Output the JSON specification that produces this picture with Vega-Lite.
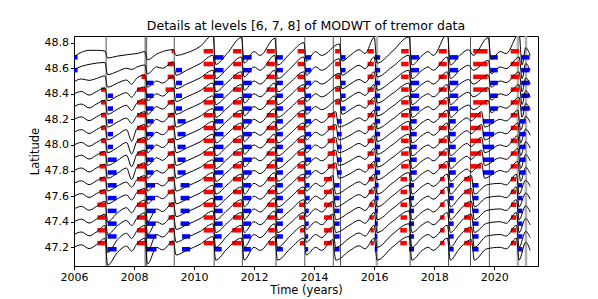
{
"$schema":"https://vega.github.io/schema/vega-lite/v6.json",
"width":464,"height":230,
"autosize":{"type":"none"},
"padding":{"left":74,"top":36,"right":60,"bottom":33},
"config":{"view":{"stroke":"black","strokeWidth":1},"font":"DejaVu Sans",
"axis":{"domainColor":"black","tickColor":"black","labelColor":"black","titleColor":"black","labelFont":"DejaVu Sans","titleFont":"DejaVu Sans","labelFontSize":11,"titleFontSize":11.5,"titleFontWeight":"normal","tickSize":3.5,"grid":false,"labelPadding":2,"labelFlush":false,"labelOverlap":false}},
"title":{"text":"Details at levels [6, 7, 8] of MODWT of tremor data","fontSize":12.5,"fontWeight":"normal","font":"DejaVu Sans","color":"black","offset":4},
"datasets":{
"rd":[{"t":2007.07},{"t":2008.37},{"t":2008.42},{"t":2009.34},{"t":2010.67},{"t":2011.61},{"t":2012.73},{"t":2013.69},{"t":2014.64},{"t":2014.88},{"t":2017.2},{"t":2018.48},{"t":2019.21},{"t":2019.84}],
"rl":[{"t":2016.09},{"t":2020.79},{"t":2021.06}],
"bars":[
{"k":"r","y":48.433,"s":2006.9,"e":2007.03},{"k":"r","y":48.333,"s":2006.9,"e":2007.03},{"k":"r","y":48.233,"s":2006.9,"e":2007.03},{"k":"r","y":48.133,"s":2006.9,"e":2007.03},{"k":"r","y":48.033,"s":2006.9,"e":2007.03},
{"k":"r","y":47.933,"s":2006.85,"e":2007.03},{"k":"r","y":47.833,"s":2006.85,"e":2007.03},{"k":"r","y":47.733,"s":2006.85,"e":2007.03},{"k":"r","y":47.633,"s":2006.85,"e":2007.03},
{"k":"r","y":47.533,"s":2006.78,"e":2007.03},{"k":"r","y":47.433,"s":2006.78,"e":2007.03},{"k":"r","y":47.333,"s":2006.78,"e":2007.03},{"k":"r","y":47.233,"s":2006.78,"e":2007.03},
{"k":"b","y":48.385,"s":2007.12,"e":2007.3},{"k":"b","y":48.285,"s":2007.12,"e":2007.3},{"k":"b","y":48.185,"s":2007.12,"e":2007.3},{"k":"b","y":48.085,"s":2007.12,"e":2007.3},{"k":"b","y":47.985,"s":2007.12,"e":2007.3},
{"k":"b","y":47.885,"s":2007.12,"e":2007.42},{"k":"b","y":47.785,"s":2007.12,"e":2007.42},{"k":"b","y":47.685,"s":2007.12,"e":2007.42},{"k":"b","y":47.585,"s":2007.12,"e":2007.42},{"k":"b","y":47.485,"s":2007.12,"e":2007.42},{"k":"b","y":47.385,"s":2007.12,"e":2007.42},{"k":"b","y":47.285,"s":2007.12,"e":2007.42},{"k":"b","y":47.185,"s":2007.12,"e":2007.42},
{"k":"b","y":48.685,"s":2006.0,"e":2006.12},{"k":"b","y":48.585,"s":2006.0,"e":2006.12},
{"k":"r","y":48.533,"s":2008.25,"e":2008.37},{"k":"r","y":48.433,"s":2008.1,"e":2008.37},{"k":"r","y":48.333,"s":2008.1,"e":2008.37},{"k":"r","y":48.233,"s":2008.1,"e":2008.37},{"k":"r","y":48.133,"s":2008.1,"e":2008.37},{"k":"r","y":48.033,"s":2008.1,"e":2008.37},{"k":"r","y":47.933,"s":2008.1,"e":2008.37},{"k":"r","y":47.833,"s":2008.1,"e":2008.37},{"k":"r","y":47.733,"s":2008.1,"e":2008.37},{"k":"r","y":47.633,"s":2008.1,"e":2008.37},{"k":"r","y":47.533,"s":2008.1,"e":2008.37},{"k":"r","y":47.433,"s":2008.1,"e":2008.37},{"k":"r","y":47.333,"s":2008.1,"e":2008.37},{"k":"r","y":47.233,"s":2008.1,"e":2008.37},
{"k":"b","y":48.485,"s":2008.42,"e":2008.65},{"k":"b","y":48.385,"s":2008.42,"e":2008.65},{"k":"b","y":48.285,"s":2008.42,"e":2008.65},{"k":"b","y":48.185,"s":2008.42,"e":2008.65},{"k":"b","y":48.085,"s":2008.42,"e":2008.65},{"k":"b","y":47.985,"s":2008.42,"e":2008.65},{"k":"b","y":47.885,"s":2008.42,"e":2008.65},{"k":"b","y":47.785,"s":2008.42,"e":2008.65},{"k":"b","y":47.685,"s":2008.42,"e":2008.7},{"k":"b","y":47.585,"s":2008.42,"e":2008.7},{"k":"b","y":47.485,"s":2008.42,"e":2008.72},{"k":"b","y":47.385,"s":2008.42,"e":2008.72},{"k":"b","y":47.285,"s":2008.42,"e":2008.75},{"k":"b","y":47.185,"s":2008.42,"e":2008.75},
{"k":"r","y":48.733,"s":2009.25,"e":2009.32},{"k":"r","y":48.633,"s":2009.12,"e":2009.32},{"k":"r","y":48.533,"s":2009.12,"e":2009.32},{"k":"r","y":48.433,"s":2009.05,"e":2009.32},{"k":"r","y":48.333,"s":2009.12,"e":2009.32},{"k":"r","y":48.233,"s":2009.12,"e":2009.32},{"k":"r","y":48.133,"s":2009.12,"e":2009.32},{"k":"r","y":48.033,"s":2009.12,"e":2009.32},{"k":"r","y":47.933,"s":2009.12,"e":2009.32},{"k":"r","y":47.833,"s":2009.12,"e":2009.32},{"k":"r","y":47.733,"s":2009.12,"e":2009.32},{"k":"r","y":47.633,"s":2009.12,"e":2009.32},{"k":"r","y":47.533,"s":2009.15,"e":2009.32},{"k":"r","y":47.433,"s":2009.15,"e":2009.32},{"k":"r","y":47.333,"s":2009.17,"e":2009.32},{"k":"r","y":47.233,"s":2009.17,"e":2009.32},
{"k":"b","y":48.585,"s":2009.4,"e":2009.6},{"k":"b","y":48.485,"s":2009.4,"e":2009.6},{"k":"b","y":48.385,"s":2009.4,"e":2009.6},{"k":"b","y":48.285,"s":2009.4,"e":2009.6},{"k":"b","y":48.185,"s":2009.45,"e":2009.72},{"k":"b","y":48.085,"s":2009.45,"e":2009.72},{"k":"b","y":47.985,"s":2009.45,"e":2009.72},{"k":"b","y":47.885,"s":2009.45,"e":2009.72},{"k":"b","y":47.785,"s":2009.45,"e":2009.72},{"k":"b","y":47.685,"s":2009.55,"e":2009.85},{"k":"b","y":47.585,"s":2009.55,"e":2009.85},{"k":"b","y":47.485,"s":2009.55,"e":2009.85},{"k":"b","y":47.385,"s":2009.55,"e":2009.85},{"k":"b","y":47.285,"s":2009.6,"e":2009.87},{"k":"b","y":47.185,"s":2009.6,"e":2009.87},
{"k":"r","y":48.733,"s":2010.32,"e":2010.63},{"k":"r","y":48.633,"s":2010.32,"e":2010.63},{"k":"r","y":48.533,"s":2010.32,"e":2010.63},{"k":"r","y":48.433,"s":2010.32,"e":2010.63},{"k":"r","y":48.333,"s":2010.32,"e":2010.63},{"k":"r","y":48.233,"s":2010.32,"e":2010.63},{"k":"r","y":48.133,"s":2010.32,"e":2010.63},{"k":"r","y":48.033,"s":2010.32,"e":2010.63},{"k":"r","y":47.933,"s":2010.32,"e":2010.63},{"k":"r","y":47.833,"s":2010.32,"e":2010.63},{"k":"r","y":47.733,"s":2010.32,"e":2010.63},{"k":"r","y":47.633,"s":2010.32,"e":2010.63},{"k":"r","y":47.533,"s":2010.32,"e":2010.63},{"k":"r","y":47.433,"s":2010.32,"e":2010.63},{"k":"r","y":47.333,"s":2010.32,"e":2010.63},{"k":"r","y":47.233,"s":2010.32,"e":2010.63},
{"k":"b","y":48.685,"s":2010.68,"e":2010.98},{"k":"b","y":48.585,"s":2010.68,"e":2010.98},{"k":"b","y":48.485,"s":2010.68,"e":2010.98},{"k":"b","y":48.385,"s":2010.68,"e":2010.98},{"k":"b","y":48.285,"s":2010.68,"e":2010.98},{"k":"b","y":48.185,"s":2010.68,"e":2010.98},{"k":"b","y":48.085,"s":2010.68,"e":2010.98},{"k":"b","y":47.985,"s":2010.68,"e":2010.98},{"k":"b","y":47.885,"s":2010.68,"e":2010.98},{"k":"b","y":47.785,"s":2010.68,"e":2010.98},{"k":"b","y":47.685,"s":2010.68,"e":2010.95},{"k":"b","y":47.585,"s":2010.68,"e":2010.95},{"k":"b","y":47.485,"s":2010.68,"e":2010.95},{"k":"b","y":47.385,"s":2010.68,"e":2010.95},{"k":"b","y":47.285,"s":2010.68,"e":2010.92},{"k":"b","y":47.185,"s":2010.68,"e":2010.92},
{"k":"r","y":48.733,"s":2011.3,"e":2011.58},{"k":"r","y":48.633,"s":2011.3,"e":2011.58},{"k":"r","y":48.533,"s":2011.3,"e":2011.58},{"k":"r","y":48.433,"s":2011.3,"e":2011.58},{"k":"r","y":48.333,"s":2011.3,"e":2011.58},{"k":"r","y":48.233,"s":2011.3,"e":2011.58},{"k":"r","y":48.133,"s":2011.3,"e":2011.58},{"k":"r","y":48.033,"s":2011.3,"e":2011.58},{"k":"r","y":47.933,"s":2011.3,"e":2011.58},{"k":"r","y":47.833,"s":2011.3,"e":2011.58},{"k":"r","y":47.733,"s":2011.3,"e":2011.58},{"k":"r","y":47.633,"s":2011.3,"e":2011.58},{"k":"r","y":47.533,"s":2011.3,"e":2011.58},{"k":"r","y":47.433,"s":2011.3,"e":2011.58},{"k":"r","y":47.333,"s":2011.27,"e":2011.58},{"k":"r","y":47.233,"s":2011.27,"e":2011.58},
{"k":"b","y":48.685,"s":2011.64,"e":2011.92},{"k":"b","y":48.585,"s":2011.64,"e":2011.92},{"k":"b","y":48.485,"s":2011.64,"e":2011.92},{"k":"b","y":48.385,"s":2011.64,"e":2011.92},{"k":"b","y":48.285,"s":2011.64,"e":2011.92},{"k":"b","y":48.185,"s":2011.64,"e":2011.92},{"k":"b","y":48.085,"s":2011.64,"e":2011.92},{"k":"b","y":47.985,"s":2011.64,"e":2011.92},{"k":"b","y":47.885,"s":2011.64,"e":2011.92},{"k":"b","y":47.785,"s":2011.64,"e":2011.92},{"k":"b","y":47.685,"s":2011.64,"e":2011.9},{"k":"b","y":47.585,"s":2011.64,"e":2011.9},{"k":"b","y":47.485,"s":2011.64,"e":2011.9},{"k":"b","y":47.385,"s":2011.64,"e":2011.9},{"k":"b","y":47.285,"s":2011.64,"e":2011.89},{"k":"b","y":47.185,"s":2011.64,"e":2011.89},
{"k":"r","y":48.733,"s":2012.42,"e":2012.69},{"k":"r","y":48.633,"s":2012.42,"e":2012.69},{"k":"r","y":48.533,"s":2012.42,"e":2012.69},{"k":"r","y":48.433,"s":2012.42,"e":2012.69},{"k":"r","y":48.333,"s":2012.42,"e":2012.69},{"k":"r","y":48.233,"s":2012.42,"e":2012.69},{"k":"r","y":48.133,"s":2012.42,"e":2012.69},{"k":"r","y":48.033,"s":2012.42,"e":2012.69},{"k":"r","y":47.933,"s":2012.42,"e":2012.69},{"k":"r","y":47.833,"s":2012.42,"e":2012.69},{"k":"r","y":47.733,"s":2012.45,"e":2012.69},{"k":"r","y":47.633,"s":2012.45,"e":2012.69},{"k":"r","y":47.533,"s":2012.45,"e":2012.69},{"k":"r","y":47.433,"s":2012.45,"e":2012.69},{"k":"r","y":47.333,"s":2012.48,"e":2012.69},{"k":"r","y":47.233,"s":2012.48,"e":2012.69},
{"k":"b","y":48.685,"s":2012.76,"e":2012.96},{"k":"b","y":48.585,"s":2012.76,"e":2012.96},{"k":"b","y":48.485,"s":2012.76,"e":2012.96},{"k":"b","y":48.385,"s":2012.76,"e":2012.96},{"k":"b","y":48.285,"s":2012.76,"e":2012.96},{"k":"b","y":48.185,"s":2012.76,"e":2012.96},{"k":"b","y":48.085,"s":2012.76,"e":2012.96},{"k":"b","y":47.985,"s":2012.76,"e":2012.96},{"k":"b","y":47.885,"s":2012.76,"e":2012.96},{"k":"b","y":47.785,"s":2012.76,"e":2012.96},{"k":"b","y":47.685,"s":2012.76,"e":2012.96},{"k":"b","y":47.585,"s":2012.76,"e":2012.96},{"k":"b","y":47.485,"s":2012.76,"e":2012.96},{"k":"b","y":47.385,"s":2012.76,"e":2012.96},{"k":"b","y":47.285,"s":2012.76,"e":2012.96},{"k":"b","y":47.185,"s":2012.76,"e":2012.96},
{"k":"r","y":48.733,"s":2013.45,"e":2013.67},{"k":"r","y":48.633,"s":2013.45,"e":2013.67},{"k":"r","y":48.533,"s":2013.45,"e":2013.67},{"k":"r","y":48.433,"s":2013.45,"e":2013.67},{"k":"r","y":48.333,"s":2013.45,"e":2013.67},{"k":"r","y":48.233,"s":2013.45,"e":2013.67},{"k":"r","y":48.133,"s":2013.45,"e":2013.67},{"k":"r","y":48.033,"s":2013.45,"e":2013.67},{"k":"r","y":47.933,"s":2013.45,"e":2013.67},{"k":"r","y":47.833,"s":2013.45,"e":2013.67},{"k":"r","y":47.733,"s":2013.45,"e":2013.67},{"k":"r","y":47.633,"s":2013.45,"e":2013.67},{"k":"r","y":47.533,"s":2013.5,"e":2013.67},{"k":"r","y":47.433,"s":2013.5,"e":2013.67},{"k":"r","y":47.333,"s":2013.53,"e":2013.67},{"k":"r","y":47.233,"s":2013.53,"e":2013.67},
{"k":"b","y":48.685,"s":2013.73,"e":2013.9},{"k":"b","y":48.585,"s":2013.73,"e":2013.9},{"k":"b","y":48.485,"s":2013.73,"e":2013.9},{"k":"b","y":48.385,"s":2013.73,"e":2013.9},{"k":"b","y":48.285,"s":2013.73,"e":2013.9},{"k":"b","y":48.185,"s":2013.73,"e":2013.9},{"k":"b","y":48.085,"s":2013.73,"e":2013.9},{"k":"b","y":47.985,"s":2013.73,"e":2013.9},{"k":"b","y":47.885,"s":2013.73,"e":2013.9},{"k":"b","y":47.785,"s":2013.73,"e":2013.9},{"k":"b","y":47.685,"s":2013.73,"e":2013.85},{"k":"b","y":47.585,"s":2013.73,"e":2013.85},{"k":"b","y":47.485,"s":2013.73,"e":2013.82},{"k":"b","y":47.385,"s":2013.73,"e":2013.82},{"k":"b","y":47.285,"s":2013.73,"e":2013.8},{"k":"b","y":47.185,"s":2013.73,"e":2013.8},
{"k":"r","y":48.733,"s":2014.7,"e":2014.86},{"k":"r","y":48.633,"s":2014.7,"e":2014.86},{"k":"r","y":48.533,"s":2014.7,"e":2014.86},{"k":"r","y":48.433,"s":2014.7,"e":2014.86},{"k":"r","y":48.333,"s":2014.7,"e":2014.86},{"k":"r","y":48.233,"s":2014.45,"e":2014.7},{"k":"r","y":48.133,"s":2014.45,"e":2014.7},{"k":"r","y":48.033,"s":2014.45,"e":2014.7},{"k":"r","y":47.933,"s":2014.45,"e":2014.7},{"k":"r","y":47.833,"s":2014.45,"e":2014.7},{"k":"r","y":47.733,"s":2014.33,"e":2014.6},{"k":"r","y":47.633,"s":2014.33,"e":2014.6},{"k":"r","y":47.533,"s":2014.33,"e":2014.6},{"k":"r","y":47.433,"s":2014.33,"e":2014.6},{"k":"r","y":47.333,"s":2014.33,"e":2014.6},{"k":"r","y":47.233,"s":2014.33,"e":2014.6},
{"k":"b","y":48.685,"s":2014.9,"e":2015.05},{"k":"b","y":48.585,"s":2014.9,"e":2015.05},{"k":"b","y":48.485,"s":2014.9,"e":2015.05},{"k":"b","y":48.385,"s":2014.9,"e":2015.05},{"k":"b","y":48.285,"s":2014.9,"e":2015.05},{"k":"b","y":48.185,"s":2014.76,"e":2014.92},{"k":"b","y":48.085,"s":2014.76,"e":2014.92},{"k":"b","y":47.985,"s":2014.76,"e":2014.92},{"k":"b","y":47.885,"s":2014.76,"e":2014.92},{"k":"b","y":47.785,"s":2014.76,"e":2014.92},{"k":"b","y":47.685,"s":2014.68,"e":2014.85},{"k":"b","y":47.585,"s":2014.68,"e":2014.85},{"k":"b","y":47.485,"s":2014.68,"e":2014.85},{"k":"b","y":47.385,"s":2014.68,"e":2014.85},{"k":"b","y":47.285,"s":2014.68,"e":2014.85},{"k":"b","y":47.185,"s":2014.68,"e":2014.85},
{"k":"r","y":48.733,"s":2015.78,"e":2015.99},{"k":"r","y":48.633,"s":2015.78,"e":2015.99},{"k":"r","y":48.533,"s":2015.78,"e":2015.99},{"k":"r","y":48.433,"s":2015.78,"e":2015.99},{"k":"r","y":48.333,"s":2015.78,"e":2015.99},{"k":"r","y":48.233,"s":2015.78,"e":2015.99},{"k":"r","y":48.133,"s":2015.78,"e":2015.99},{"k":"r","y":48.033,"s":2015.78,"e":2015.99},{"k":"r","y":47.933,"s":2015.78,"e":2015.99},{"k":"r","y":47.833,"s":2015.78,"e":2015.99},{"k":"r","y":47.733,"s":2015.82,"e":2015.99},{"k":"r","y":47.633,"s":2015.82,"e":2015.99},{"k":"r","y":47.533,"s":2015.85,"e":2015.99},{"k":"r","y":47.433,"s":2015.85,"e":2015.99},{"k":"r","y":47.333,"s":2015.88,"e":2015.99},{"k":"r","y":47.233,"s":2015.88,"e":2015.99},
{"k":"b","y":48.685,"s":2016.02,"e":2016.2},{"k":"b","y":48.585,"s":2016.02,"e":2016.2},{"k":"b","y":48.485,"s":2016.02,"e":2016.2},{"k":"b","y":48.385,"s":2016.02,"e":2016.2},{"k":"b","y":48.285,"s":2016.02,"e":2016.2},{"k":"b","y":48.185,"s":2016.02,"e":2016.2},{"k":"b","y":48.085,"s":2016.02,"e":2016.2},{"k":"b","y":47.985,"s":2016.02,"e":2016.2},{"k":"b","y":47.885,"s":2016.02,"e":2016.2},{"k":"b","y":47.785,"s":2016.02,"e":2016.2},{"k":"b","y":47.685,"s":2016.02,"e":2016.15},{"k":"b","y":47.585,"s":2016.02,"e":2016.15},{"k":"b","y":47.485,"s":2016.02,"e":2016.12},{"k":"b","y":47.385,"s":2016.02,"e":2016.12},{"k":"b","y":47.285,"s":2016.02,"e":2016.1},{"k":"b","y":47.185,"s":2016.02,"e":2016.1},
{"k":"r","y":48.733,"s":2016.9,"e":2017.15},{"k":"r","y":48.633,"s":2016.9,"e":2017.15},{"k":"r","y":48.533,"s":2016.9,"e":2017.15},{"k":"r","y":48.433,"s":2016.9,"e":2017.15},{"k":"r","y":48.333,"s":2016.9,"e":2017.15},{"k":"r","y":48.233,"s":2016.9,"e":2017.15},{"k":"r","y":48.133,"s":2016.9,"e":2017.15},{"k":"r","y":48.033,"s":2016.9,"e":2017.15},{"k":"r","y":47.933,"s":2016.9,"e":2017.15},{"k":"r","y":47.833,"s":2016.9,"e":2017.15},{"k":"r","y":47.733,"s":2016.88,"e":2017.1},{"k":"r","y":47.633,"s":2016.88,"e":2017.1},{"k":"r","y":47.533,"s":2016.88,"e":2017.1},{"k":"r","y":47.433,"s":2016.88,"e":2017.1},{"k":"r","y":47.333,"s":2016.87,"e":2017.09},{"k":"r","y":47.233,"s":2016.87,"e":2017.09},
{"k":"b","y":48.685,"s":2017.22,"e":2017.5},{"k":"b","y":48.585,"s":2017.22,"e":2017.5},{"k":"b","y":48.485,"s":2017.22,"e":2017.5},{"k":"b","y":48.385,"s":2017.22,"e":2017.5},{"k":"b","y":48.285,"s":2017.22,"e":2017.5},{"k":"b","y":48.185,"s":2017.2,"e":2017.42},{"k":"b","y":48.085,"s":2017.2,"e":2017.42},{"k":"b","y":47.985,"s":2017.2,"e":2017.42},{"k":"b","y":47.885,"s":2017.2,"e":2017.42},{"k":"b","y":47.785,"s":2017.2,"e":2017.42},{"k":"b","y":47.685,"s":2017.16,"e":2017.33},{"k":"b","y":47.585,"s":2017.16,"e":2017.33},{"k":"b","y":47.485,"s":2017.16,"e":2017.33},{"k":"b","y":47.385,"s":2017.16,"e":2017.33},{"k":"b","y":47.285,"s":2017.16,"e":2017.33},{"k":"b","y":47.185,"s":2017.16,"e":2017.33},
{"k":"r","y":48.733,"s":2018.15,"e":2018.42},{"k":"r","y":48.633,"s":2018.15,"e":2018.42},{"k":"r","y":48.533,"s":2018.15,"e":2018.42},{"k":"r","y":48.433,"s":2018.15,"e":2018.42},{"k":"r","y":48.333,"s":2018.15,"e":2018.42},{"k":"r","y":48.233,"s":2018.15,"e":2018.42},{"k":"r","y":48.133,"s":2018.15,"e":2018.42},{"k":"r","y":48.033,"s":2018.15,"e":2018.42},{"k":"r","y":47.933,"s":2018.15,"e":2018.42},{"k":"r","y":47.833,"s":2018.15,"e":2018.42},{"k":"r","y":47.733,"s":2018.2,"e":2018.35},{"k":"r","y":47.633,"s":2018.2,"e":2018.35},{"k":"r","y":47.533,"s":2018.2,"e":2018.35},{"k":"r","y":47.433,"s":2018.2,"e":2018.35},{"k":"r","y":47.333,"s":2018.2,"e":2018.35},{"k":"r","y":47.233,"s":2018.2,"e":2018.35},
{"k":"b","y":48.685,"s":2018.52,"e":2018.8},{"k":"b","y":48.585,"s":2018.52,"e":2018.8},{"k":"b","y":48.485,"s":2018.52,"e":2018.8},{"k":"b","y":48.385,"s":2018.52,"e":2018.8},{"k":"b","y":48.285,"s":2018.52,"e":2018.8},{"k":"b","y":48.185,"s":2018.5,"e":2018.72},{"k":"b","y":48.085,"s":2018.5,"e":2018.72},{"k":"b","y":47.985,"s":2018.5,"e":2018.72},{"k":"b","y":47.885,"s":2018.5,"e":2018.72},{"k":"b","y":47.785,"s":2018.5,"e":2018.72},{"k":"b","y":47.685,"s":2018.5,"e":2018.65},{"k":"b","y":47.585,"s":2018.5,"e":2018.65},{"k":"b","y":47.485,"s":2018.5,"e":2018.65},{"k":"b","y":47.385,"s":2018.5,"e":2018.65},{"k":"b","y":47.285,"s":2018.5,"e":2018.65},{"k":"b","y":47.185,"s":2018.5,"e":2018.65},
{"k":"r","y":48.733,"s":2019.3,"e":2019.78},{"k":"r","y":48.633,"s":2019.3,"e":2019.78},{"k":"r","y":48.533,"s":2019.3,"e":2019.78},{"k":"r","y":48.433,"s":2019.3,"e":2019.78},{"k":"r","y":48.333,"s":2019.3,"e":2019.78},{"k":"r","y":48.233,"s":2019.2,"e":2019.56},{"k":"r","y":48.133,"s":2019.2,"e":2019.56},{"k":"r","y":48.033,"s":2019.2,"e":2019.56},{"k":"r","y":47.933,"s":2019.2,"e":2019.56},{"k":"r","y":47.833,"s":2019.2,"e":2019.56},{"k":"r","y":47.733,"s":2019.0,"e":2019.24},{"k":"r","y":47.633,"s":2019.0,"e":2019.24},{"k":"r","y":47.533,"s":2019.0,"e":2019.24},{"k":"r","y":47.433,"s":2019.0,"e":2019.24},{"k":"r","y":47.333,"s":2019.0,"e":2019.24},{"k":"r","y":47.233,"s":2019.0,"e":2019.24},
{"k":"b","y":48.685,"s":2019.87,"e":2020.12},{"k":"b","y":48.585,"s":2019.87,"e":2020.12},{"k":"b","y":48.485,"s":2019.87,"e":2020.12},{"k":"b","y":48.385,"s":2019.87,"e":2020.12},{"k":"b","y":48.285,"s":2019.87,"e":2020.12},{"k":"b","y":48.185,"s":2019.62,"e":2020.0},{"k":"b","y":48.085,"s":2019.62,"e":2020.0},{"k":"b","y":47.985,"s":2019.62,"e":2020.0},{"k":"b","y":47.885,"s":2019.62,"e":2020.0},{"k":"b","y":47.785,"s":2019.62,"e":2020.0},{"k":"b","y":47.685,"s":2019.28,"e":2019.48},{"k":"b","y":47.585,"s":2019.28,"e":2019.48},{"k":"b","y":47.485,"s":2019.28,"e":2019.48},{"k":"b","y":47.385,"s":2019.28,"e":2019.48},{"k":"b","y":47.285,"s":2019.28,"e":2019.48},{"k":"b","y":47.185,"s":2019.28,"e":2019.48},
{"k":"r","y":48.733,"s":2020.55,"e":2020.83},{"k":"r","y":48.633,"s":2020.55,"e":2020.83},{"k":"r","y":48.533,"s":2020.55,"e":2020.83},{"k":"r","y":48.433,"s":2020.55,"e":2020.83},{"k":"r","y":48.333,"s":2020.55,"e":2020.83},{"k":"r","y":48.233,"s":2020.55,"e":2020.78},{"k":"r","y":48.133,"s":2020.55,"e":2020.78},{"k":"r","y":48.033,"s":2020.55,"e":2020.78},{"k":"r","y":47.933,"s":2020.55,"e":2020.78},{"k":"r","y":47.833,"s":2020.55,"e":2020.78},{"k":"r","y":47.733,"s":2020.56,"e":2020.73},{"k":"r","y":47.633,"s":2020.56,"e":2020.73},{"k":"r","y":47.533,"s":2020.56,"e":2020.73},{"k":"r","y":47.433,"s":2020.56,"e":2020.73},{"k":"r","y":47.333,"s":2020.56,"e":2020.73},{"k":"r","y":47.233,"s":2020.56,"e":2020.73},
{"k":"b","y":48.685,"s":2020.9,"e":2021.18},{"k":"b","y":48.585,"s":2020.9,"e":2021.18},{"k":"b","y":48.485,"s":2020.9,"e":2021.18},{"k":"b","y":48.385,"s":2020.9,"e":2021.18},{"k":"b","y":48.285,"s":2020.9,"e":2021.18},{"k":"b","y":48.185,"s":2020.86,"e":2021.05},{"k":"b","y":48.085,"s":2020.86,"e":2021.05},{"k":"b","y":47.985,"s":2020.86,"e":2021.05},{"k":"b","y":47.885,"s":2020.86,"e":2021.05},{"k":"b","y":47.785,"s":2020.86,"e":2021.05},{"k":"b","y":47.685,"s":2020.8,"e":2020.94},{"k":"b","y":47.585,"s":2020.8,"e":2020.94},{"k":"b","y":47.485,"s":2020.8,"e":2020.94},{"k":"b","y":47.385,"s":2020.8,"e":2020.94},{"k":"b","y":47.285,"s":2020.8,"e":2020.94},{"k":"b","y":47.185,"s":2020.8,"e":2020.94}
],
"curves":[
{"lat":48.7,"t":2006,"y":48.69},{"lat":48.7,"t":2006.25,"y":48.725},{"lat":48.7,"t":2006.5,"y":48.74},{"lat":48.7,"t":2006.75,"y":48.74},{"lat":48.7,"t":2007.03,"y":48.735},{"lat":48.7,"t":2007.12,"y":48.68},{"lat":48.7,"t":2007.45,"y":48.695},{"lat":48.7,"t":2007.75,"y":48.705},{"lat":48.7,"t":2007.92,"y":48.71},{"lat":48.7,"t":2008.1,"y":48.715},{"lat":48.7,"t":2008.36,"y":48.73},{"lat":48.7,"t":2008.45,"y":48.665},{"lat":48.7,"t":2008.75,"y":48.71},{"lat":48.7,"t":2008.95,"y":48.73},{"lat":48.7,"t":2009.31,"y":48.745},{"lat":48.7,"t":2009.4,"y":48.7},{"lat":48.7,"t":2009.75,"y":48.72},{"lat":48.7,"t":2010.2,"y":48.77},{"lat":48.7,"t":2010.63,"y":48.86},{"lat":48.7,"t":2010.72,"y":48.63},{"lat":48.7,"t":2011.1,"y":48.715},{"lat":48.7,"t":2011.58,"y":48.84},{"lat":48.7,"t":2011.67,"y":48.64},{"lat":48.7,"t":2012,"y":48.73},{"lat":48.7,"t":2012.2,"y":48.7},{"lat":48.7,"t":2012.69,"y":48.835},{"lat":48.7,"t":2012.78,"y":48.625},{"lat":48.7,"t":2013.2,"y":48.715},{"lat":48.7,"t":2013.66,"y":48.8},{"lat":48.7,"t":2013.74,"y":48.655},{"lat":48.7,"t":2014.05,"y":48.73},{"lat":48.7,"t":2014.25,"y":48.7},{"lat":48.7,"t":2014.84,"y":48.79},{"lat":48.7,"t":2014.93,"y":48.655},{"lat":48.7,"t":2015.2,"y":48.7},{"lat":48.7,"t":2015.5,"y":48.745},{"lat":48.7,"t":2015.7,"y":48.715},{"lat":48.7,"t":2016,"y":48.84},{"lat":48.7,"t":2016.1,"y":48.64},{"lat":48.7,"t":2016.6,"y":48.73},{"lat":48.7,"t":2017.16,"y":48.845},{"lat":48.7,"t":2017.26,"y":48.625},{"lat":48.7,"t":2017.6,"y":48.7},{"lat":48.7,"t":2017.8,"y":48.73},{"lat":48.7,"t":2017.97,"y":48.7},{"lat":48.7,"t":2018.44,"y":48.87},{"lat":48.7,"t":2018.54,"y":48.625},{"lat":48.7,"t":2018.85,"y":48.7},{"lat":48.7,"t":2019.15,"y":48.745},{"lat":48.7,"t":2019.3,"y":48.7},{"lat":48.7,"t":2019.8,"y":48.84},{"lat":48.7,"t":2019.9,"y":48.67},{"lat":48.7,"t":2020.2,"y":48.73},{"lat":48.7,"t":2020.4,"y":48.715},{"lat":48.7,"t":2020.83,"y":48.87},{"lat":48.7,"t":2020.93,"y":48.625},{"lat":48.7,"t":2021.05,"y":48.76},{"lat":48.7,"t":2021.2,"y":48.7},
{"lat":48.6,"t":2006,"y":48.59},{"lat":48.6,"t":2006.25,"y":48.615},{"lat":48.6,"t":2006.5,"y":48.63},{"lat":48.6,"t":2006.75,"y":48.64},{"lat":48.6,"t":2007.03,"y":48.645},{"lat":48.6,"t":2007.12,"y":48.55},{"lat":48.6,"t":2007.45,"y":48.575},{"lat":48.6,"t":2007.75,"y":48.6},{"lat":48.6,"t":2007.92,"y":48.59},{"lat":48.6,"t":2008.1,"y":48.61},{"lat":48.6,"t":2008.36,"y":48.625},{"lat":48.6,"t":2008.45,"y":48.555},{"lat":48.6,"t":2008.75,"y":48.61},{"lat":48.6,"t":2008.95,"y":48.6},{"lat":48.6,"t":2009.31,"y":48.65},{"lat":48.6,"t":2009.4,"y":48.545},{"lat":48.6,"t":2009.75,"y":48.584},{"lat":48.6,"t":2010.2,"y":48.636},{"lat":48.6,"t":2010.63,"y":48.701},{"lat":48.6,"t":2010.72,"y":48.519},{"lat":48.6,"t":2011.1,"y":48.597},{"lat":48.6,"t":2011.58,"y":48.688},{"lat":48.6,"t":2011.67,"y":48.532},{"lat":48.6,"t":2012,"y":48.61},{"lat":48.6,"t":2012.2,"y":48.584},{"lat":48.6,"t":2012.69,"y":48.701},{"lat":48.6,"t":2012.78,"y":48.519},{"lat":48.6,"t":2013.2,"y":48.597},{"lat":48.6,"t":2013.66,"y":48.688},{"lat":48.6,"t":2013.74,"y":48.545},{"lat":48.6,"t":2014.05,"y":48.61},{"lat":48.6,"t":2014.25,"y":48.584},{"lat":48.6,"t":2014.84,"y":48.675},{"lat":48.6,"t":2014.93,"y":48.545},{"lat":48.6,"t":2015.2,"y":48.584},{"lat":48.6,"t":2015.5,"y":48.623},{"lat":48.6,"t":2015.7,"y":48.597},{"lat":48.6,"t":2016,"y":48.688},{"lat":48.6,"t":2016.1,"y":48.532},{"lat":48.6,"t":2016.6,"y":48.61},{"lat":48.6,"t":2017.16,"y":48.701},{"lat":48.6,"t":2017.26,"y":48.519},{"lat":48.6,"t":2017.6,"y":48.584},{"lat":48.6,"t":2017.8,"y":48.61},{"lat":48.6,"t":2017.97,"y":48.584},{"lat":48.6,"t":2018.44,"y":48.688},{"lat":48.6,"t":2018.54,"y":48.519},{"lat":48.6,"t":2018.85,"y":48.584},{"lat":48.6,"t":2019.15,"y":48.623},{"lat":48.6,"t":2019.3,"y":48.584},{"lat":48.6,"t":2019.8,"y":48.662},{"lat":48.6,"t":2019.9,"y":48.558},{"lat":48.6,"t":2020.2,"y":48.61},{"lat":48.6,"t":2020.4,"y":48.597},{"lat":48.6,"t":2020.83,"y":48.688},{"lat":48.6,"t":2020.93,"y":48.519},{"lat":48.6,"t":2021.05,"y":48.636},{"lat":48.6,"t":2021.2,"y":48.584},
{"lat":48.5,"t":2006,"y":48.495},{"lat":48.5,"t":2006.25,"y":48.516},{"lat":48.5,"t":2006.5,"y":48.505},{"lat":48.5,"t":2006.75,"y":48.52},{"lat":48.5,"t":2007.03,"y":48.54},{"lat":48.5,"t":2007.12,"y":48.452},{"lat":48.5,"t":2007.45,"y":48.484},{"lat":48.5,"t":2007.75,"y":48.508},{"lat":48.5,"t":2007.92,"y":48.476},{"lat":48.5,"t":2008.1,"y":48.524},{"lat":48.5,"t":2008.36,"y":48.548},{"lat":48.5,"t":2008.45,"y":48.452},{"lat":48.5,"t":2008.75,"y":48.5},{"lat":48.5,"t":2008.95,"y":48.484},{"lat":48.5,"t":2009.31,"y":48.54},{"lat":48.5,"t":2009.4,"y":48.44},{"lat":48.5,"t":2009.75,"y":48.476},{"lat":48.5,"t":2010.2,"y":48.524},{"lat":48.5,"t":2010.63,"y":48.584},{"lat":48.5,"t":2010.72,"y":48.416},{"lat":48.5,"t":2011.1,"y":48.488},{"lat":48.5,"t":2011.58,"y":48.572},{"lat":48.5,"t":2011.67,"y":48.428},{"lat":48.5,"t":2012,"y":48.5},{"lat":48.5,"t":2012.2,"y":48.476},{"lat":48.5,"t":2012.69,"y":48.584},{"lat":48.5,"t":2012.78,"y":48.416},{"lat":48.5,"t":2013.2,"y":48.488},{"lat":48.5,"t":2013.66,"y":48.572},{"lat":48.5,"t":2013.74,"y":48.44},{"lat":48.5,"t":2014.05,"y":48.5},{"lat":48.5,"t":2014.25,"y":48.476},{"lat":48.5,"t":2014.84,"y":48.56},{"lat":48.5,"t":2014.93,"y":48.44},{"lat":48.5,"t":2015.2,"y":48.476},{"lat":48.5,"t":2015.5,"y":48.512},{"lat":48.5,"t":2015.7,"y":48.488},{"lat":48.5,"t":2016,"y":48.572},{"lat":48.5,"t":2016.1,"y":48.428},{"lat":48.5,"t":2016.6,"y":48.5},{"lat":48.5,"t":2017.16,"y":48.584},{"lat":48.5,"t":2017.26,"y":48.416},{"lat":48.5,"t":2017.6,"y":48.476},{"lat":48.5,"t":2017.8,"y":48.5},{"lat":48.5,"t":2017.97,"y":48.476},{"lat":48.5,"t":2018.44,"y":48.572},{"lat":48.5,"t":2018.54,"y":48.416},{"lat":48.5,"t":2018.85,"y":48.476},{"lat":48.5,"t":2019.15,"y":48.512},{"lat":48.5,"t":2019.3,"y":48.476},{"lat":48.5,"t":2019.8,"y":48.548},{"lat":48.5,"t":2019.9,"y":48.452},{"lat":48.5,"t":2020.2,"y":48.5},{"lat":48.5,"t":2020.4,"y":48.488},{"lat":48.5,"t":2020.83,"y":48.572},{"lat":48.5,"t":2020.93,"y":48.416},{"lat":48.5,"t":2021.05,"y":48.524},{"lat":48.5,"t":2021.2,"y":48.476},
{"lat":48.4,"t":2006,"y":48.4},{"lat":48.4,"t":2006.25,"y":48.418},{"lat":48.4,"t":2006.5,"y":48.39},{"lat":48.4,"t":2006.75,"y":48.418},{"lat":48.4,"t":2007.03,"y":48.445},{"lat":48.4,"t":2007.12,"y":48.346},{"lat":48.4,"t":2007.45,"y":48.382},{"lat":48.4,"t":2007.75,"y":48.409},{"lat":48.4,"t":2007.92,"y":48.373},{"lat":48.4,"t":2008.1,"y":48.427},{"lat":48.4,"t":2008.36,"y":48.454},{"lat":48.4,"t":2008.45,"y":48.346},{"lat":48.4,"t":2008.75,"y":48.4},{"lat":48.4,"t":2008.95,"y":48.382},{"lat":48.4,"t":2009.31,"y":48.445},{"lat":48.4,"t":2009.4,"y":48.34},{"lat":48.4,"t":2009.75,"y":48.376},{"lat":48.4,"t":2010.2,"y":48.424},{"lat":48.4,"t":2010.63,"y":48.484},{"lat":48.4,"t":2010.72,"y":48.316},{"lat":48.4,"t":2011.1,"y":48.388},{"lat":48.4,"t":2011.58,"y":48.472},{"lat":48.4,"t":2011.67,"y":48.328},{"lat":48.4,"t":2012,"y":48.4},{"lat":48.4,"t":2012.2,"y":48.376},{"lat":48.4,"t":2012.69,"y":48.484},{"lat":48.4,"t":2012.78,"y":48.316},{"lat":48.4,"t":2013.2,"y":48.388},{"lat":48.4,"t":2013.66,"y":48.472},{"lat":48.4,"t":2013.74,"y":48.34},{"lat":48.4,"t":2014.05,"y":48.4},{"lat":48.4,"t":2014.25,"y":48.376},{"lat":48.4,"t":2014.84,"y":48.46},{"lat":48.4,"t":2014.93,"y":48.34},{"lat":48.4,"t":2015.2,"y":48.376},{"lat":48.4,"t":2015.5,"y":48.412},{"lat":48.4,"t":2015.7,"y":48.388},{"lat":48.4,"t":2016,"y":48.472},{"lat":48.4,"t":2016.1,"y":48.328},{"lat":48.4,"t":2016.6,"y":48.4},{"lat":48.4,"t":2017.16,"y":48.484},{"lat":48.4,"t":2017.26,"y":48.316},{"lat":48.4,"t":2017.6,"y":48.376},{"lat":48.4,"t":2017.8,"y":48.4},{"lat":48.4,"t":2017.97,"y":48.376},{"lat":48.4,"t":2018.44,"y":48.472},{"lat":48.4,"t":2018.54,"y":48.316},{"lat":48.4,"t":2018.85,"y":48.376},{"lat":48.4,"t":2019.15,"y":48.412},{"lat":48.4,"t":2019.3,"y":48.376},{"lat":48.4,"t":2019.8,"y":48.448},{"lat":48.4,"t":2019.9,"y":48.352},{"lat":48.4,"t":2020.2,"y":48.4},{"lat":48.4,"t":2020.4,"y":48.388},{"lat":48.4,"t":2020.83,"y":48.472},{"lat":48.4,"t":2020.93,"y":48.316},{"lat":48.4,"t":2021.05,"y":48.424},{"lat":48.4,"t":2021.2,"y":48.376},
{"lat":48.3,"t":2006,"y":48.3},{"lat":48.3,"t":2006.25,"y":48.32},{"lat":48.3,"t":2006.5,"y":48.29},{"lat":48.3,"t":2006.75,"y":48.32},{"lat":48.3,"t":2007.03,"y":48.35},{"lat":48.3,"t":2007.12,"y":48.24},{"lat":48.3,"t":2007.45,"y":48.28},{"lat":48.3,"t":2007.75,"y":48.31},{"lat":48.3,"t":2007.92,"y":48.27},{"lat":48.3,"t":2008.1,"y":48.33},{"lat":48.3,"t":2008.36,"y":48.36},{"lat":48.3,"t":2008.45,"y":48.24},{"lat":48.3,"t":2008.75,"y":48.3},{"lat":48.3,"t":2008.95,"y":48.28},{"lat":48.3,"t":2009.31,"y":48.35},{"lat":48.3,"t":2009.4,"y":48.24},{"lat":48.3,"t":2009.75,"y":48.276},{"lat":48.3,"t":2010.2,"y":48.324},{"lat":48.3,"t":2010.63,"y":48.384},{"lat":48.3,"t":2010.72,"y":48.216},{"lat":48.3,"t":2011.1,"y":48.288},{"lat":48.3,"t":2011.58,"y":48.372},{"lat":48.3,"t":2011.67,"y":48.228},{"lat":48.3,"t":2012,"y":48.3},{"lat":48.3,"t":2012.2,"y":48.276},{"lat":48.3,"t":2012.69,"y":48.384},{"lat":48.3,"t":2012.78,"y":48.216},{"lat":48.3,"t":2013.2,"y":48.288},{"lat":48.3,"t":2013.66,"y":48.372},{"lat":48.3,"t":2013.74,"y":48.24},{"lat":48.3,"t":2014.05,"y":48.3},{"lat":48.3,"t":2014.25,"y":48.276},{"lat":48.3,"t":2014.84,"y":48.36},{"lat":48.3,"t":2014.93,"y":48.24},{"lat":48.3,"t":2015.2,"y":48.276},{"lat":48.3,"t":2015.5,"y":48.312},{"lat":48.3,"t":2015.7,"y":48.288},{"lat":48.3,"t":2016,"y":48.372},{"lat":48.3,"t":2016.1,"y":48.228},{"lat":48.3,"t":2016.6,"y":48.3},{"lat":48.3,"t":2017.16,"y":48.384},{"lat":48.3,"t":2017.26,"y":48.216},{"lat":48.3,"t":2017.6,"y":48.276},{"lat":48.3,"t":2017.8,"y":48.3},{"lat":48.3,"t":2017.97,"y":48.276},{"lat":48.3,"t":2018.44,"y":48.372},{"lat":48.3,"t":2018.54,"y":48.216},{"lat":48.3,"t":2018.85,"y":48.276},{"lat":48.3,"t":2019.15,"y":48.312},{"lat":48.3,"t":2019.3,"y":48.276},{"lat":48.3,"t":2019.8,"y":48.348},{"lat":48.3,"t":2019.9,"y":48.252},{"lat":48.3,"t":2020.2,"y":48.3},{"lat":48.3,"t":2020.4,"y":48.288},{"lat":48.3,"t":2020.83,"y":48.372},{"lat":48.3,"t":2020.93,"y":48.216},{"lat":48.3,"t":2021.05,"y":48.324},{"lat":48.3,"t":2021.2,"y":48.276},
{"lat":48.2,"t":2006,"y":48.2},{"lat":48.2,"t":2006.25,"y":48.22},{"lat":48.2,"t":2006.5,"y":48.19},{"lat":48.2,"t":2006.75,"y":48.22},{"lat":48.2,"t":2007.03,"y":48.25},{"lat":48.2,"t":2007.12,"y":48.14},{"lat":48.2,"t":2007.45,"y":48.18},{"lat":48.2,"t":2007.75,"y":48.21},{"lat":48.2,"t":2007.92,"y":48.17},{"lat":48.2,"t":2008.1,"y":48.23},{"lat":48.2,"t":2008.36,"y":48.26},{"lat":48.2,"t":2008.45,"y":48.14},{"lat":48.2,"t":2008.75,"y":48.2},{"lat":48.2,"t":2008.95,"y":48.18},{"lat":48.2,"t":2009.31,"y":48.25},{"lat":48.2,"t":2009.4,"y":48.14},{"lat":48.2,"t":2009.75,"y":48.176},{"lat":48.2,"t":2010.2,"y":48.224},{"lat":48.2,"t":2010.63,"y":48.284},{"lat":48.2,"t":2010.72,"y":48.116},{"lat":48.2,"t":2011.1,"y":48.188},{"lat":48.2,"t":2011.58,"y":48.272},{"lat":48.2,"t":2011.67,"y":48.128},{"lat":48.2,"t":2012,"y":48.2},{"lat":48.2,"t":2012.2,"y":48.176},{"lat":48.2,"t":2012.69,"y":48.284},{"lat":48.2,"t":2012.78,"y":48.116},{"lat":48.2,"t":2013.2,"y":48.188},{"lat":48.2,"t":2013.66,"y":48.272},{"lat":48.2,"t":2013.74,"y":48.14},{"lat":48.2,"t":2014.05,"y":48.2},{"lat":48.2,"t":2014.25,"y":48.176},{"lat":48.2,"t":2014.72,"y":48.26},{"lat":48.2,"t":2014.82,"y":48.14},{"lat":48.2,"t":2015.2,"y":48.176},{"lat":48.2,"t":2015.5,"y":48.212},{"lat":48.2,"t":2015.7,"y":48.188},{"lat":48.2,"t":2016,"y":48.272},{"lat":48.2,"t":2016.1,"y":48.128},{"lat":48.2,"t":2016.6,"y":48.2},{"lat":48.2,"t":2017.16,"y":48.284},{"lat":48.2,"t":2017.26,"y":48.116},{"lat":48.2,"t":2017.6,"y":48.176},{"lat":48.2,"t":2017.8,"y":48.2},{"lat":48.2,"t":2017.97,"y":48.176},{"lat":48.2,"t":2018.44,"y":48.272},{"lat":48.2,"t":2018.54,"y":48.116},{"lat":48.2,"t":2018.85,"y":48.176},{"lat":48.2,"t":2019.1,"y":48.212},{"lat":48.2,"t":2019.22,"y":48.188},{"lat":48.2,"t":2019.58,"y":48.26},{"lat":48.2,"t":2019.68,"y":48.14},{"lat":48.2,"t":2020.2,"y":48.2},{"lat":48.2,"t":2020.4,"y":48.188},{"lat":48.2,"t":2020.79,"y":48.272},{"lat":48.2,"t":2020.88,"y":48.116},{"lat":48.2,"t":2021.05,"y":48.224},{"lat":48.2,"t":2021.2,"y":48.176},
{"lat":48.1,"t":2006,"y":48.1},{"lat":48.1,"t":2006.25,"y":48.12},{"lat":48.1,"t":2006.5,"y":48.09},{"lat":48.1,"t":2006.75,"y":48.12},{"lat":48.1,"t":2007.03,"y":48.15},{"lat":48.1,"t":2007.12,"y":48.04},{"lat":48.1,"t":2007.45,"y":48.08},{"lat":48.1,"t":2007.75,"y":48.12},{"lat":48.1,"t":2007.92,"y":48.03},{"lat":48.1,"t":2008.1,"y":48.13},{"lat":48.1,"t":2008.36,"y":48.16},{"lat":48.1,"t":2008.45,"y":48.04},{"lat":48.1,"t":2008.75,"y":48.1},{"lat":48.1,"t":2008.95,"y":48.08},{"lat":48.1,"t":2009.31,"y":48.15},{"lat":48.1,"t":2009.4,"y":48.04},{"lat":48.1,"t":2009.75,"y":48.076},{"lat":48.1,"t":2010.2,"y":48.124},{"lat":48.1,"t":2010.63,"y":48.184},{"lat":48.1,"t":2010.72,"y":48.016},{"lat":48.1,"t":2011.1,"y":48.088},{"lat":48.1,"t":2011.58,"y":48.172},{"lat":48.1,"t":2011.67,"y":48.028},{"lat":48.1,"t":2012,"y":48.1},{"lat":48.1,"t":2012.2,"y":48.076},{"lat":48.1,"t":2012.69,"y":48.184},{"lat":48.1,"t":2012.78,"y":48.016},{"lat":48.1,"t":2013.2,"y":48.088},{"lat":48.1,"t":2013.66,"y":48.172},{"lat":48.1,"t":2013.74,"y":48.04},{"lat":48.1,"t":2014.05,"y":48.1},{"lat":48.1,"t":2014.25,"y":48.076},{"lat":48.1,"t":2014.72,"y":48.16},{"lat":48.1,"t":2014.82,"y":48.04},{"lat":48.1,"t":2015.2,"y":48.076},{"lat":48.1,"t":2015.5,"y":48.112},{"lat":48.1,"t":2015.7,"y":48.088},{"lat":48.1,"t":2016,"y":48.172},{"lat":48.1,"t":2016.1,"y":48.028},{"lat":48.1,"t":2016.6,"y":48.1},{"lat":48.1,"t":2017.16,"y":48.184},{"lat":48.1,"t":2017.26,"y":48.016},{"lat":48.1,"t":2017.6,"y":48.076},{"lat":48.1,"t":2017.8,"y":48.1},{"lat":48.1,"t":2017.97,"y":48.076},{"lat":48.1,"t":2018.44,"y":48.172},{"lat":48.1,"t":2018.54,"y":48.016},{"lat":48.1,"t":2018.85,"y":48.076},{"lat":48.1,"t":2019.1,"y":48.112},{"lat":48.1,"t":2019.22,"y":48.088},{"lat":48.1,"t":2019.58,"y":48.16},{"lat":48.1,"t":2019.68,"y":48.04},{"lat":48.1,"t":2020.2,"y":48.1},{"lat":48.1,"t":2020.4,"y":48.088},{"lat":48.1,"t":2020.79,"y":48.172},{"lat":48.1,"t":2020.88,"y":48.016},{"lat":48.1,"t":2021.05,"y":48.124},{"lat":48.1,"t":2021.2,"y":48.076},
{"lat":48.0,"t":2006,"y":48.0},{"lat":48.0,"t":2006.25,"y":48.02},{"lat":48.0,"t":2006.5,"y":47.99},{"lat":48.0,"t":2006.75,"y":48.02},{"lat":48.0,"t":2007.03,"y":48.05},{"lat":48.0,"t":2007.12,"y":47.94},{"lat":48.0,"t":2007.45,"y":47.98},{"lat":48.0,"t":2007.75,"y":48.02},{"lat":48.0,"t":2007.92,"y":47.93},{"lat":48.0,"t":2008.1,"y":48.03},{"lat":48.0,"t":2008.36,"y":48.06},{"lat":48.0,"t":2008.45,"y":47.94},{"lat":48.0,"t":2008.75,"y":48.0},{"lat":48.0,"t":2008.95,"y":47.98},{"lat":48.0,"t":2009.31,"y":48.05},{"lat":48.0,"t":2009.4,"y":47.94},{"lat":48.0,"t":2009.75,"y":47.976},{"lat":48.0,"t":2010.2,"y":48.024},{"lat":48.0,"t":2010.63,"y":48.084},{"lat":48.0,"t":2010.72,"y":47.916},{"lat":48.0,"t":2011.1,"y":47.988},{"lat":48.0,"t":2011.58,"y":48.072},{"lat":48.0,"t":2011.67,"y":47.928},{"lat":48.0,"t":2012,"y":48.0},{"lat":48.0,"t":2012.2,"y":47.976},{"lat":48.0,"t":2012.69,"y":48.084},{"lat":48.0,"t":2012.78,"y":47.916},{"lat":48.0,"t":2013.2,"y":47.988},{"lat":48.0,"t":2013.66,"y":48.072},{"lat":48.0,"t":2013.74,"y":47.94},{"lat":48.0,"t":2014.05,"y":48.0},{"lat":48.0,"t":2014.25,"y":47.976},{"lat":48.0,"t":2014.72,"y":48.06},{"lat":48.0,"t":2014.82,"y":47.94},{"lat":48.0,"t":2015.2,"y":47.976},{"lat":48.0,"t":2015.5,"y":48.012},{"lat":48.0,"t":2015.7,"y":47.988},{"lat":48.0,"t":2016,"y":48.072},{"lat":48.0,"t":2016.1,"y":47.928},{"lat":48.0,"t":2016.6,"y":48.0},{"lat":48.0,"t":2017.16,"y":48.084},{"lat":48.0,"t":2017.26,"y":47.916},{"lat":48.0,"t":2017.6,"y":47.976},{"lat":48.0,"t":2017.8,"y":48.0},{"lat":48.0,"t":2017.97,"y":47.976},{"lat":48.0,"t":2018.44,"y":48.072},{"lat":48.0,"t":2018.54,"y":47.916},{"lat":48.0,"t":2018.85,"y":47.976},{"lat":48.0,"t":2019.1,"y":48.012},{"lat":48.0,"t":2019.22,"y":47.988},{"lat":48.0,"t":2019.58,"y":48.06},{"lat":48.0,"t":2019.68,"y":47.94},{"lat":48.0,"t":2020.2,"y":48.0},{"lat":48.0,"t":2020.4,"y":47.988},{"lat":48.0,"t":2020.79,"y":48.072},{"lat":48.0,"t":2020.88,"y":47.916},{"lat":48.0,"t":2021.05,"y":48.024},{"lat":48.0,"t":2021.2,"y":47.976},
{"lat":47.9,"t":2006,"y":47.9},{"lat":47.9,"t":2006.25,"y":47.92},{"lat":47.9,"t":2006.5,"y":47.89},{"lat":47.9,"t":2006.75,"y":47.92},{"lat":47.9,"t":2007.03,"y":47.95},{"lat":47.9,"t":2007.12,"y":47.84},{"lat":47.9,"t":2007.45,"y":47.88},{"lat":47.9,"t":2007.75,"y":47.92},{"lat":47.9,"t":2007.92,"y":47.83},{"lat":47.9,"t":2008.1,"y":47.93},{"lat":47.9,"t":2008.36,"y":47.96},{"lat":47.9,"t":2008.45,"y":47.84},{"lat":47.9,"t":2008.75,"y":47.9},{"lat":47.9,"t":2008.95,"y":47.88},{"lat":47.9,"t":2009.31,"y":47.95},{"lat":47.9,"t":2009.4,"y":47.84},{"lat":47.9,"t":2009.75,"y":47.876},{"lat":47.9,"t":2010.2,"y":47.924},{"lat":47.9,"t":2010.63,"y":47.984},{"lat":47.9,"t":2010.72,"y":47.816},{"lat":47.9,"t":2011.1,"y":47.888},{"lat":47.9,"t":2011.58,"y":47.972},{"lat":47.9,"t":2011.67,"y":47.828},{"lat":47.9,"t":2012,"y":47.9},{"lat":47.9,"t":2012.2,"y":47.876},{"lat":47.9,"t":2012.69,"y":47.984},{"lat":47.9,"t":2012.78,"y":47.816},{"lat":47.9,"t":2013.2,"y":47.888},{"lat":47.9,"t":2013.66,"y":47.972},{"lat":47.9,"t":2013.74,"y":47.84},{"lat":47.9,"t":2014.05,"y":47.9},{"lat":47.9,"t":2014.25,"y":47.876},{"lat":47.9,"t":2014.72,"y":47.96},{"lat":47.9,"t":2014.82,"y":47.84},{"lat":47.9,"t":2015.2,"y":47.876},{"lat":47.9,"t":2015.5,"y":47.912},{"lat":47.9,"t":2015.7,"y":47.888},{"lat":47.9,"t":2016,"y":47.972},{"lat":47.9,"t":2016.1,"y":47.828},{"lat":47.9,"t":2016.6,"y":47.9},{"lat":47.9,"t":2017.16,"y":47.984},{"lat":47.9,"t":2017.26,"y":47.816},{"lat":47.9,"t":2017.6,"y":47.876},{"lat":47.9,"t":2017.8,"y":47.9},{"lat":47.9,"t":2017.97,"y":47.876},{"lat":47.9,"t":2018.44,"y":47.972},{"lat":47.9,"t":2018.54,"y":47.816},{"lat":47.9,"t":2018.85,"y":47.876},{"lat":47.9,"t":2019.1,"y":47.912},{"lat":47.9,"t":2019.22,"y":47.888},{"lat":47.9,"t":2019.58,"y":47.96},{"lat":47.9,"t":2019.68,"y":47.84},{"lat":47.9,"t":2020.2,"y":47.9},{"lat":47.9,"t":2020.4,"y":47.888},{"lat":47.9,"t":2020.79,"y":47.972},{"lat":47.9,"t":2020.88,"y":47.816},{"lat":47.9,"t":2021.05,"y":47.924},{"lat":47.9,"t":2021.2,"y":47.876},
{"lat":47.8,"t":2006,"y":47.8},{"lat":47.8,"t":2006.25,"y":47.82},{"lat":47.8,"t":2006.5,"y":47.79},{"lat":47.8,"t":2006.75,"y":47.82},{"lat":47.8,"t":2007.03,"y":47.85},{"lat":47.8,"t":2007.12,"y":47.74},{"lat":47.8,"t":2007.45,"y":47.78},{"lat":47.8,"t":2007.75,"y":47.82},{"lat":47.8,"t":2007.92,"y":47.73},{"lat":47.8,"t":2008.1,"y":47.83},{"lat":47.8,"t":2008.36,"y":47.86},{"lat":47.8,"t":2008.45,"y":47.74},{"lat":47.8,"t":2008.75,"y":47.8},{"lat":47.8,"t":2008.95,"y":47.78},{"lat":47.8,"t":2009.31,"y":47.85},{"lat":47.8,"t":2009.4,"y":47.74},{"lat":47.8,"t":2009.75,"y":47.776},{"lat":47.8,"t":2010.2,"y":47.824},{"lat":47.8,"t":2010.63,"y":47.884},{"lat":47.8,"t":2010.72,"y":47.716},{"lat":47.8,"t":2011.1,"y":47.788},{"lat":47.8,"t":2011.58,"y":47.872},{"lat":47.8,"t":2011.67,"y":47.728},{"lat":47.8,"t":2012,"y":47.8},{"lat":47.8,"t":2012.2,"y":47.776},{"lat":47.8,"t":2012.69,"y":47.884},{"lat":47.8,"t":2012.78,"y":47.716},{"lat":47.8,"t":2013.2,"y":47.788},{"lat":47.8,"t":2013.66,"y":47.872},{"lat":47.8,"t":2013.74,"y":47.74},{"lat":47.8,"t":2014.05,"y":47.8},{"lat":47.8,"t":2014.25,"y":47.776},{"lat":47.8,"t":2014.72,"y":47.86},{"lat":47.8,"t":2014.82,"y":47.74},{"lat":47.8,"t":2015.2,"y":47.776},{"lat":47.8,"t":2015.5,"y":47.812},{"lat":47.8,"t":2015.7,"y":47.788},{"lat":47.8,"t":2016,"y":47.872},{"lat":47.8,"t":2016.1,"y":47.728},{"lat":47.8,"t":2016.6,"y":47.8},{"lat":47.8,"t":2017.16,"y":47.884},{"lat":47.8,"t":2017.26,"y":47.716},{"lat":47.8,"t":2017.6,"y":47.776},{"lat":47.8,"t":2017.8,"y":47.8},{"lat":47.8,"t":2017.97,"y":47.776},{"lat":47.8,"t":2018.44,"y":47.872},{"lat":47.8,"t":2018.54,"y":47.716},{"lat":47.8,"t":2018.85,"y":47.776},{"lat":47.8,"t":2019.1,"y":47.812},{"lat":47.8,"t":2019.22,"y":47.788},{"lat":47.8,"t":2019.58,"y":47.86},{"lat":47.8,"t":2019.68,"y":47.74},{"lat":47.8,"t":2020.2,"y":47.8},{"lat":47.8,"t":2020.4,"y":47.788},{"lat":47.8,"t":2020.79,"y":47.872},{"lat":47.8,"t":2020.88,"y":47.716},{"lat":47.8,"t":2021.05,"y":47.824},{"lat":47.8,"t":2021.2,"y":47.776},
{"lat":47.7,"t":2006,"y":47.7},{"lat":47.7,"t":2006.25,"y":47.72},{"lat":47.7,"t":2006.5,"y":47.69},{"lat":47.7,"t":2006.75,"y":47.72},{"lat":47.7,"t":2007.03,"y":47.75},{"lat":47.7,"t":2007.12,"y":47.64},{"lat":47.7,"t":2007.45,"y":47.68},{"lat":47.7,"t":2007.75,"y":47.71},{"lat":47.7,"t":2007.92,"y":47.67},{"lat":47.7,"t":2008.1,"y":47.73},{"lat":47.7,"t":2008.36,"y":47.76},{"lat":47.7,"t":2008.45,"y":47.64},{"lat":47.7,"t":2008.75,"y":47.7},{"lat":47.7,"t":2008.95,"y":47.68},{"lat":47.7,"t":2009.31,"y":47.75},{"lat":47.7,"t":2009.4,"y":47.64},{"lat":47.7,"t":2009.75,"y":47.676},{"lat":47.7,"t":2010.2,"y":47.724},{"lat":47.7,"t":2010.63,"y":47.784},{"lat":47.7,"t":2010.72,"y":47.616},{"lat":47.7,"t":2011.1,"y":47.688},{"lat":47.7,"t":2011.58,"y":47.772},{"lat":47.7,"t":2011.67,"y":47.616},{"lat":47.7,"t":2012,"y":47.7},{"lat":47.7,"t":2012.2,"y":47.676},{"lat":47.7,"t":2012.69,"y":47.784},{"lat":47.7,"t":2012.78,"y":47.616},{"lat":47.7,"t":2013.2,"y":47.688},{"lat":47.7,"t":2013.66,"y":47.772},{"lat":47.7,"t":2013.74,"y":47.64},{"lat":47.7,"t":2014.05,"y":47.7},{"lat":47.7,"t":2014.25,"y":47.676},{"lat":47.7,"t":2014.62,"y":47.76},{"lat":47.7,"t":2014.72,"y":47.616},{"lat":47.7,"t":2015.2,"y":47.676},{"lat":47.7,"t":2015.5,"y":47.712},{"lat":47.7,"t":2015.7,"y":47.688},{"lat":47.7,"t":2016,"y":47.772},{"lat":47.7,"t":2016.1,"y":47.616},{"lat":47.7,"t":2016.6,"y":47.7},{"lat":47.7,"t":2017.16,"y":47.784},{"lat":47.7,"t":2017.26,"y":47.616},{"lat":47.7,"t":2017.6,"y":47.676},{"lat":47.7,"t":2017.8,"y":47.7},{"lat":47.7,"t":2017.97,"y":47.676},{"lat":47.7,"t":2018.44,"y":47.772},{"lat":47.7,"t":2018.54,"y":47.616},{"lat":47.7,"t":2018.8,"y":47.676},{"lat":47.7,"t":2018.98,"y":47.724},{"lat":47.7,"t":2019.24,"y":47.76},{"lat":47.7,"t":2019.34,"y":47.616},{"lat":47.7,"t":2019.75,"y":47.688},{"lat":47.7,"t":2020.2,"y":47.7},{"lat":47.7,"t":2020.4,"y":47.688},{"lat":47.7,"t":2020.74,"y":47.772},{"lat":47.7,"t":2020.83,"y":47.616},{"lat":47.7,"t":2021.05,"y":47.724},{"lat":47.7,"t":2021.2,"y":47.676},
{"lat":47.6,"t":2006,"y":47.6},{"lat":47.6,"t":2006.25,"y":47.62},{"lat":47.6,"t":2006.5,"y":47.59},{"lat":47.6,"t":2006.75,"y":47.62},{"lat":47.6,"t":2007.03,"y":47.65},{"lat":47.6,"t":2007.12,"y":47.54},{"lat":47.6,"t":2007.45,"y":47.58},{"lat":47.6,"t":2007.75,"y":47.61},{"lat":47.6,"t":2007.92,"y":47.57},{"lat":47.6,"t":2008.1,"y":47.63},{"lat":47.6,"t":2008.36,"y":47.66},{"lat":47.6,"t":2008.45,"y":47.54},{"lat":47.6,"t":2008.75,"y":47.6},{"lat":47.6,"t":2008.95,"y":47.58},{"lat":47.6,"t":2009.31,"y":47.65},{"lat":47.6,"t":2009.4,"y":47.54},{"lat":47.6,"t":2009.75,"y":47.576},{"lat":47.6,"t":2010.2,"y":47.624},{"lat":47.6,"t":2010.63,"y":47.684},{"lat":47.6,"t":2010.72,"y":47.516},{"lat":47.6,"t":2011.1,"y":47.588},{"lat":47.6,"t":2011.58,"y":47.672},{"lat":47.6,"t":2011.67,"y":47.516},{"lat":47.6,"t":2012,"y":47.6},{"lat":47.6,"t":2012.2,"y":47.576},{"lat":47.6,"t":2012.69,"y":47.684},{"lat":47.6,"t":2012.78,"y":47.516},{"lat":47.6,"t":2013.2,"y":47.588},{"lat":47.6,"t":2013.66,"y":47.672},{"lat":47.6,"t":2013.74,"y":47.54},{"lat":47.6,"t":2014.05,"y":47.6},{"lat":47.6,"t":2014.25,"y":47.576},{"lat":47.6,"t":2014.62,"y":47.66},{"lat":47.6,"t":2014.72,"y":47.516},{"lat":47.6,"t":2015.2,"y":47.576},{"lat":47.6,"t":2015.5,"y":47.612},{"lat":47.6,"t":2015.7,"y":47.588},{"lat":47.6,"t":2016,"y":47.672},{"lat":47.6,"t":2016.1,"y":47.516},{"lat":47.6,"t":2016.6,"y":47.6},{"lat":47.6,"t":2017.16,"y":47.684},{"lat":47.6,"t":2017.26,"y":47.516},{"lat":47.6,"t":2017.6,"y":47.576},{"lat":47.6,"t":2017.8,"y":47.6},{"lat":47.6,"t":2017.97,"y":47.576},{"lat":47.6,"t":2018.44,"y":47.672},{"lat":47.6,"t":2018.54,"y":47.516},{"lat":47.6,"t":2018.8,"y":47.576},{"lat":47.6,"t":2018.98,"y":47.624},{"lat":47.6,"t":2019.24,"y":47.66},{"lat":47.6,"t":2019.34,"y":47.516},{"lat":47.6,"t":2019.75,"y":47.588},{"lat":47.6,"t":2020.2,"y":47.6},{"lat":47.6,"t":2020.4,"y":47.588},{"lat":47.6,"t":2020.74,"y":47.672},{"lat":47.6,"t":2020.83,"y":47.516},{"lat":47.6,"t":2021.05,"y":47.624},{"lat":47.6,"t":2021.2,"y":47.576},
{"lat":47.5,"t":2006,"y":47.5},{"lat":47.5,"t":2006.25,"y":47.52},{"lat":47.5,"t":2006.5,"y":47.49},{"lat":47.5,"t":2006.75,"y":47.52},{"lat":47.5,"t":2007.03,"y":47.56},{"lat":47.5,"t":2007.12,"y":47.4},{"lat":47.5,"t":2007.45,"y":47.47},{"lat":47.5,"t":2007.75,"y":47.51},{"lat":47.5,"t":2007.92,"y":47.47},{"lat":47.5,"t":2008.1,"y":47.53},{"lat":47.5,"t":2008.36,"y":47.57},{"lat":47.5,"t":2008.45,"y":47.4},{"lat":47.5,"t":2008.75,"y":47.5},{"lat":47.5,"t":2008.95,"y":47.48},{"lat":47.5,"t":2009.31,"y":47.55},{"lat":47.5,"t":2009.4,"y":47.44},{"lat":47.5,"t":2009.75,"y":47.476},{"lat":47.5,"t":2010.2,"y":47.524},{"lat":47.5,"t":2010.63,"y":47.584},{"lat":47.5,"t":2010.72,"y":47.416},{"lat":47.5,"t":2011.1,"y":47.488},{"lat":47.5,"t":2011.58,"y":47.572},{"lat":47.5,"t":2011.67,"y":47.416},{"lat":47.5,"t":2012,"y":47.5},{"lat":47.5,"t":2012.2,"y":47.476},{"lat":47.5,"t":2012.69,"y":47.584},{"lat":47.5,"t":2012.78,"y":47.416},{"lat":47.5,"t":2013.2,"y":47.488},{"lat":47.5,"t":2013.66,"y":47.572},{"lat":47.5,"t":2013.74,"y":47.44},{"lat":47.5,"t":2014.05,"y":47.5},{"lat":47.5,"t":2014.25,"y":47.476},{"lat":47.5,"t":2014.62,"y":47.56},{"lat":47.5,"t":2014.72,"y":47.416},{"lat":47.5,"t":2015.2,"y":47.476},{"lat":47.5,"t":2015.5,"y":47.512},{"lat":47.5,"t":2015.7,"y":47.488},{"lat":47.5,"t":2016,"y":47.572},{"lat":47.5,"t":2016.1,"y":47.416},{"lat":47.5,"t":2016.6,"y":47.5},{"lat":47.5,"t":2017.16,"y":47.584},{"lat":47.5,"t":2017.26,"y":47.416},{"lat":47.5,"t":2017.6,"y":47.476},{"lat":47.5,"t":2017.8,"y":47.5},{"lat":47.5,"t":2017.97,"y":47.476},{"lat":47.5,"t":2018.44,"y":47.572},{"lat":47.5,"t":2018.54,"y":47.416},{"lat":47.5,"t":2018.8,"y":47.476},{"lat":47.5,"t":2018.98,"y":47.524},{"lat":47.5,"t":2019.24,"y":47.56},{"lat":47.5,"t":2019.34,"y":47.416},{"lat":47.5,"t":2019.75,"y":47.488},{"lat":47.5,"t":2020.2,"y":47.5},{"lat":47.5,"t":2020.4,"y":47.488},{"lat":47.5,"t":2020.74,"y":47.572},{"lat":47.5,"t":2020.83,"y":47.416},{"lat":47.5,"t":2021.05,"y":47.524},{"lat":47.5,"t":2021.2,"y":47.476},
{"lat":47.4,"t":2006,"y":47.4},{"lat":47.4,"t":2006.25,"y":47.42},{"lat":47.4,"t":2006.5,"y":47.39},{"lat":47.4,"t":2006.75,"y":47.42},{"lat":47.4,"t":2007.03,"y":47.46},{"lat":47.4,"t":2007.12,"y":47.3},{"lat":47.4,"t":2007.45,"y":47.37},{"lat":47.4,"t":2007.75,"y":47.41},{"lat":47.4,"t":2007.92,"y":47.37},{"lat":47.4,"t":2008.1,"y":47.43},{"lat":47.4,"t":2008.36,"y":47.47},{"lat":47.4,"t":2008.45,"y":47.3},{"lat":47.4,"t":2008.75,"y":47.4},{"lat":47.4,"t":2008.95,"y":47.38},{"lat":47.4,"t":2009.31,"y":47.45},{"lat":47.4,"t":2009.4,"y":47.34},{"lat":47.4,"t":2009.75,"y":47.376},{"lat":47.4,"t":2010.2,"y":47.424},{"lat":47.4,"t":2010.63,"y":47.484},{"lat":47.4,"t":2010.72,"y":47.316},{"lat":47.4,"t":2011.1,"y":47.388},{"lat":47.4,"t":2011.58,"y":47.472},{"lat":47.4,"t":2011.67,"y":47.316},{"lat":47.4,"t":2012,"y":47.4},{"lat":47.4,"t":2012.2,"y":47.376},{"lat":47.4,"t":2012.69,"y":47.484},{"lat":47.4,"t":2012.78,"y":47.316},{"lat":47.4,"t":2013.2,"y":47.388},{"lat":47.4,"t":2013.66,"y":47.472},{"lat":47.4,"t":2013.74,"y":47.34},{"lat":47.4,"t":2014.05,"y":47.4},{"lat":47.4,"t":2014.25,"y":47.376},{"lat":47.4,"t":2014.62,"y":47.46},{"lat":47.4,"t":2014.72,"y":47.316},{"lat":47.4,"t":2015.2,"y":47.376},{"lat":47.4,"t":2015.5,"y":47.412},{"lat":47.4,"t":2015.7,"y":47.388},{"lat":47.4,"t":2016,"y":47.472},{"lat":47.4,"t":2016.1,"y":47.316},{"lat":47.4,"t":2016.6,"y":47.4},{"lat":47.4,"t":2017.16,"y":47.484},{"lat":47.4,"t":2017.26,"y":47.316},{"lat":47.4,"t":2017.6,"y":47.376},{"lat":47.4,"t":2017.8,"y":47.4},{"lat":47.4,"t":2017.97,"y":47.376},{"lat":47.4,"t":2018.44,"y":47.472},{"lat":47.4,"t":2018.54,"y":47.316},{"lat":47.4,"t":2018.8,"y":47.376},{"lat":47.4,"t":2018.98,"y":47.424},{"lat":47.4,"t":2019.24,"y":47.46},{"lat":47.4,"t":2019.34,"y":47.316},{"lat":47.4,"t":2019.75,"y":47.388},{"lat":47.4,"t":2020.2,"y":47.4},{"lat":47.4,"t":2020.4,"y":47.388},{"lat":47.4,"t":2020.74,"y":47.472},{"lat":47.4,"t":2020.83,"y":47.316},{"lat":47.4,"t":2021.05,"y":47.424},{"lat":47.4,"t":2021.2,"y":47.376},
{"lat":47.3,"t":2006,"y":47.3},{"lat":47.3,"t":2006.25,"y":47.32},{"lat":47.3,"t":2006.5,"y":47.29},{"lat":47.3,"t":2006.75,"y":47.32},{"lat":47.3,"t":2007.03,"y":47.37},{"lat":47.3,"t":2007.12,"y":47.16},{"lat":47.3,"t":2007.45,"y":47.26},{"lat":47.3,"t":2007.75,"y":47.31},{"lat":47.3,"t":2007.92,"y":47.27},{"lat":47.3,"t":2008.1,"y":47.33},{"lat":47.3,"t":2008.36,"y":47.37},{"lat":47.3,"t":2008.45,"y":47.17},{"lat":47.3,"t":2008.75,"y":47.3},{"lat":47.3,"t":2008.95,"y":47.28},{"lat":47.3,"t":2009.31,"y":47.35},{"lat":47.3,"t":2009.4,"y":47.24},{"lat":47.3,"t":2009.75,"y":47.276},{"lat":47.3,"t":2010.2,"y":47.324},{"lat":47.3,"t":2010.63,"y":47.384},{"lat":47.3,"t":2010.72,"y":47.2},{"lat":47.3,"t":2011.1,"y":47.288},{"lat":47.3,"t":2011.58,"y":47.372},{"lat":47.3,"t":2011.67,"y":47.2},{"lat":47.3,"t":2012,"y":47.3},{"lat":47.3,"t":2012.2,"y":47.276},{"lat":47.3,"t":2012.69,"y":47.384},{"lat":47.3,"t":2012.78,"y":47.2},{"lat":47.3,"t":2013.2,"y":47.288},{"lat":47.3,"t":2013.66,"y":47.372},{"lat":47.3,"t":2013.74,"y":47.24},{"lat":47.3,"t":2014.05,"y":47.3},{"lat":47.3,"t":2014.25,"y":47.276},{"lat":47.3,"t":2014.62,"y":47.36},{"lat":47.3,"t":2014.72,"y":47.2},{"lat":47.3,"t":2015.2,"y":47.276},{"lat":47.3,"t":2015.5,"y":47.312},{"lat":47.3,"t":2015.7,"y":47.288},{"lat":47.3,"t":2016,"y":47.372},{"lat":47.3,"t":2016.1,"y":47.2},{"lat":47.3,"t":2016.6,"y":47.3},{"lat":47.3,"t":2017.16,"y":47.384},{"lat":47.3,"t":2017.26,"y":47.2},{"lat":47.3,"t":2017.6,"y":47.276},{"lat":47.3,"t":2017.8,"y":47.3},{"lat":47.3,"t":2017.97,"y":47.276},{"lat":47.3,"t":2018.44,"y":47.372},{"lat":47.3,"t":2018.54,"y":47.2},{"lat":47.3,"t":2018.8,"y":47.276},{"lat":47.3,"t":2018.98,"y":47.324},{"lat":47.3,"t":2019.24,"y":47.36},{"lat":47.3,"t":2019.34,"y":47.2},{"lat":47.3,"t":2019.75,"y":47.288},{"lat":47.3,"t":2020.2,"y":47.3},{"lat":47.3,"t":2020.4,"y":47.288},{"lat":47.3,"t":2020.74,"y":47.372},{"lat":47.3,"t":2020.83,"y":47.2},{"lat":47.3,"t":2021.05,"y":47.324},{"lat":47.3,"t":2021.2,"y":47.276},
{"lat":47.2,"t":2006,"y":47.2},{"lat":47.2,"t":2006.25,"y":47.22},{"lat":47.2,"t":2006.5,"y":47.19},{"lat":47.2,"t":2006.75,"y":47.22},{"lat":47.2,"t":2007.03,"y":47.27},{"lat":47.2,"t":2007.12,"y":47.06},{"lat":47.2,"t":2007.45,"y":47.16},{"lat":47.2,"t":2007.75,"y":47.21},{"lat":47.2,"t":2007.92,"y":47.17},{"lat":47.2,"t":2008.1,"y":47.23},{"lat":47.2,"t":2008.36,"y":47.27},{"lat":47.2,"t":2008.45,"y":47.07},{"lat":47.2,"t":2008.75,"y":47.2},{"lat":47.2,"t":2008.95,"y":47.18},{"lat":47.2,"t":2009.31,"y":47.25},{"lat":47.2,"t":2009.4,"y":47.14},{"lat":47.2,"t":2009.75,"y":47.176},{"lat":47.2,"t":2010.2,"y":47.224},{"lat":47.2,"t":2010.63,"y":47.284},{"lat":47.2,"t":2010.72,"y":47.1},{"lat":47.2,"t":2011.1,"y":47.188},{"lat":47.2,"t":2011.58,"y":47.272},{"lat":47.2,"t":2011.67,"y":47.1},{"lat":47.2,"t":2012,"y":47.2},{"lat":47.2,"t":2012.2,"y":47.176},{"lat":47.2,"t":2012.69,"y":47.284},{"lat":47.2,"t":2012.78,"y":47.1},{"lat":47.2,"t":2013.2,"y":47.188},{"lat":47.2,"t":2013.66,"y":47.272},{"lat":47.2,"t":2013.74,"y":47.14},{"lat":47.2,"t":2014.05,"y":47.2},{"lat":47.2,"t":2014.25,"y":47.176},{"lat":47.2,"t":2014.62,"y":47.26},{"lat":47.2,"t":2014.72,"y":47.1},{"lat":47.2,"t":2015.2,"y":47.176},{"lat":47.2,"t":2015.5,"y":47.212},{"lat":47.2,"t":2015.7,"y":47.188},{"lat":47.2,"t":2016,"y":47.272},{"lat":47.2,"t":2016.1,"y":47.1},{"lat":47.2,"t":2016.6,"y":47.2},{"lat":47.2,"t":2017.16,"y":47.284},{"lat":47.2,"t":2017.26,"y":47.1},{"lat":47.2,"t":2017.6,"y":47.176},{"lat":47.2,"t":2017.8,"y":47.2},{"lat":47.2,"t":2017.97,"y":47.176},{"lat":47.2,"t":2018.44,"y":47.272},{"lat":47.2,"t":2018.54,"y":47.1},{"lat":47.2,"t":2018.8,"y":47.176},{"lat":47.2,"t":2018.98,"y":47.224},{"lat":47.2,"t":2019.24,"y":47.26},{"lat":47.2,"t":2019.34,"y":47.1},{"lat":47.2,"t":2019.75,"y":47.188},{"lat":47.2,"t":2020.2,"y":47.2},{"lat":47.2,"t":2020.4,"y":47.188},{"lat":47.2,"t":2020.74,"y":47.272},{"lat":47.2,"t":2020.83,"y":47.1},{"lat":47.2,"t":2021.05,"y":47.24},{"lat":47.2,"t":2021.2,"y":47.176}
]},
"layer":[
{"data":{"name":"rl"},"mark":{"type":"rule","color":"#b0b0b0","strokeWidth":2.5,"clip":true},"encoding":{"x":{"field":"t","type":"quantitative","title":"Time (years)","scale":{"domain":[2006,2021.46],"nice":false,"zero":false},"axis":{"values":[2006,2008,2010,2012,2014,2016,2018,2020],"format":"d","titlePadding":2,"labelOverlap":false}}}},
{"data":{"name":"rd"},"mark":{"type":"rule","color":"#555555","strokeWidth":1,"clip":true},"encoding":{"x":{"field":"t","type":"quantitative","title":"Time (years)","axis":{"values":[2006,2008,2010,2012,2014,2016,2018,2020],"format":"d","titlePadding":2,"labelOverlap":false}}}},
{"data":{"name":"bars"},"mark":{"type":"rule","strokeWidth":4.5,"strokeCap":"butt","clip":true},"encoding":{"x":{"field":"s","type":"quantitative","title":"Time (years)","axis":{"values":[2006,2008,2010,2012,2014,2016,2018,2020],"format":"d","titlePadding":2,"labelOverlap":false}},"x2":{"field":"e"},"y":{"field":"y","type":"quantitative","title":"Latitude","scale":{"domain":[47.054,48.852],"nice":false,"zero":false},"axis":{"values":[47.2,47.4,47.6,47.8,48.0,48.2,48.4,48.6,48.8],"format":".1f","titlePadding":4,"labelOverlap":false}},"color":{"field":"k","type":"nominal","scale":{"domain":["r","b"],"range":["#ff0000","#0000ff"]},"legend":null}}},
{"data":{"name":"curves"},"mark":{"type":"line","color":"black","strokeWidth":1,"interpolate":"monotone","clip":true},"encoding":{
"x":{"field":"t","type":"quantitative","title":"Time (years)","scale":{"domain":[2006,2021.46],"nice":false,"zero":false},"axis":{"values":[2006,2008,2010,2012,2014,2016,2018,2020],"format":"d","titlePadding":2,"labelOverlap":false}},
"y":{"field":"y","type":"quantitative","title":"Latitude","scale":{"domain":[47.054,48.852],"nice":false,"zero":false},"axis":{"values":[47.2,47.4,47.6,47.8,48.0,48.2,48.4,48.6,48.8],"format":".1f","titlePadding":4,"labelOverlap":false}},
"detail":{"field":"lat","type":"nominal"}}}
]
}
